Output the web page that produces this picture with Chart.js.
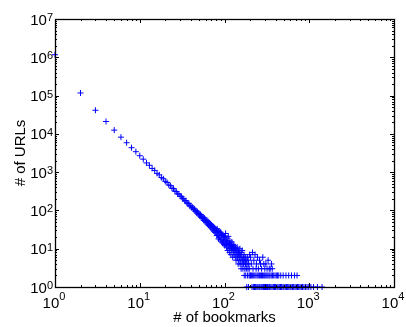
<!DOCTYPE html>
<html>
<head>
<meta charset="utf-8">
<script src="https://cdn.jsdelivr.net/npm/chart.js@4/dist/chart.umd.min.js"></script>
<style>
  html, body { margin: 0; padding: 0; background: #fff; }
  #plot { display: block; }
</style>
</head>
<body>
<canvas id="plot" width="406" height="327"></canvas>
<script>
// bookmark counts 1..10
const headBookmarks = [1, 2, 3, 4, 5, 6, 7, 8, 9, 10];
const headUrls = [1170000, 117000, 41400, 21000, 12500, 8200, 5860, 4350, 3420, 2690];

// bookmark counts 11..99
const midBookmarks = [11, 12, 13, 14, 15, 16, 17, 18, 19, 20, 21, 22, 23, 24, 25, 26, 27, 28, 29, 30,
  31, 32, 33, 34, 35, 36, 37, 38, 39, 40, 41, 42, 43, 44, 45, 46, 47, 48, 49, 50,
  51, 52, 53, 54, 55, 56, 57, 58, 59, 60, 61, 62, 63, 64, 65, 66, 67, 68, 69, 70,
  71, 72, 73, 74, 75, 76, 77, 78, 79, 80, 81, 82, 83, 84, 85, 86, 87, 88, 89, 90,
  91, 92, 93, 94, 95, 96, 97, 98, 99];
const midUrls = [2180, 1740, 1510, 1250, 1110, 930, 850, 720, 670, 575, 540, 462, 445, 380, 372, 318, 312, 270, 268, 236,
  230, 204, 201, 178, 180, 158, 149, 151, 130, 134, 118, 121, 107, 110, 96, 99, 86, 92, 79, 84,
  72, 78, 66, 71, 61, 67, 55, 63, 52, 57, 48, 55, 44, 51, 41, 47, 39, 45, 36, 42,
  33, 39, 31, 37, 29, 35, 27, 33, 26, 31, 22, 33, 23, 28, 18, 29, 20, 26, 17, 27,
  18, 24, 15, 23, 14, 22, 16, 21, 13];

// noisy tail, 100..200 bookmarks
const tailBookmarks = [100, 101, 102, 103, 104, 105, 106, 107, 108, 109, 110, 111, 112, 113, 114, 115, 116, 117, 118, 119,
  120, 121, 122, 123, 124, 125, 126, 127, 128, 129, 130, 132, 133, 134, 135, 136, 137, 138, 140, 141,
  142, 143, 145, 146, 147, 148, 150, 151, 152, 153, 155, 156, 157, 158, 160, 161, 162, 164, 165, 167,
  168, 170, 171, 173, 174, 176, 177, 178, 180, 181, 183, 184, 186, 187, 189, 190, 192, 193, 195, 196,
  198, 200];
const tailUrls = [20, 12, 17, 25, 13, 16, 11, 19, 14, 9, 15, 21, 12, 10, 14, 8, 16, 11, 13, 7,
  12, 10, 15, 9, 11, 6, 13, 8, 10, 12, 7, 9, 11, 6, 10, 8, 5, 9, 7, 11,
  6, 8, 4, 9, 7, 5, 8, 6, 10, 4, 7, 5, 3, 8, 6, 4, 9, 5, 3, 6,
  4, 7, 2, 5, 3, 6, 4, 2, 5, 3, 1, 4, 6, 2, 3, 5, 1, 4, 2, 3,
  7, 2];

// sparse points above 200 bookmarks with 3+ URLs
const sparseBookmarks = [203, 207, 214, 217, 222, 229, 236, 238, 245, 251, 259, 266, 274, 283, 291, 299, 308, 318, 327, 337, 346, 358, 366];
const sparseUrls = [6, 4, 8, 3, 5, 7, 3, 4, 6, 3, 5, 4, 3, 6, 4, 3, 4, 3, 5, 3, 3, 4, 3];

// bookmark counts held by exactly two URLs
const twoUrlBookmarks = [202, 209, 213, 221, 228, 235, 243, 250, 258, 265, 273, 281, 290, 298, 307, 316, 325, 335, 344,
  356, 369, 381, 395, 409, 423, 437, 461, 492, 531, 572, 618, 671, 718];

// bookmark counts held by a single URL
const oneUrlBookmarks = [211, 219, 226, 233, 241, 248, 256, 262, 271, 279, 288, 296, 305, 314, 322, 333, 341, 352, 364,
  377, 389, 401, 416, 428, 443, 458, 472, 489, 503, 521, 538, 556, 574, 593, 611, 634, 655, 679, 702,
  726, 751, 778, 805, 833, 866, 902, 941, 987, 1046, 1123, 1248, 1417];

const xMajors = [1, 10, 100, 1000, 10000];
const yMajors = [1, 10, 100, 1000, 10000, 100000, 1000000, 10000000];

const FONT = '"Liberation Sans", Arial, Helvetica, sans-serif';

const points = [];
const addPairs = (xs, ys) => xs.forEach((b, i) => points.push({ x: b, y: ys[i] }));
addPairs(headBookmarks, headUrls);
addPairs(midBookmarks, midUrls);
addPairs(tailBookmarks, tailUrls);
addPairs(sparseBookmarks, sparseUrls);
twoUrlBookmarks.forEach(b => points.push({ x: b, y: 2 }));
oneUrlBookmarks.forEach(b => points.push({ x: b, y: 1 }));

// matlab-like box: inward ticks on all sides, 10^n labels, axis titles
const axisDecor = {
  id: "axisDecor",
  afterDraw(chart) {
    const { ctx, chartArea: a, scales } = chart;
    const sx = scales.x, sy = scales.y;
    ctx.save();
    ctx.strokeStyle = "#000";
    ctx.lineWidth = 1;

    const minorOf = majors => {
      const out = [];
      for (let i = 0; i < majors.length - 1; i++)
        for (let m = 2; m <= 9; m++) out.push(majors[i] * m);
      return out;
    };

    ctx.beginPath();
    const xTick = (v, len) => {
      const px = Math.round(sx.getPixelForValue(v)) + 0.5;
      ctx.moveTo(px, a.bottom); ctx.lineTo(px, a.bottom - len);
      ctx.moveTo(px, a.top); ctx.lineTo(px, a.top + len);
    };
    const yTick = (v, len) => {
      const py = Math.round(sy.getPixelForValue(v)) + 0.5;
      ctx.moveTo(a.left, py); ctx.lineTo(a.left + len, py);
      ctx.moveTo(a.right, py); ctx.lineTo(a.right - len, py);
    };
    xMajors.forEach(v => xTick(v, 4));
    minorOf(xMajors).forEach(v => xTick(v, 2));
    yMajors.forEach(v => yTick(v, 4));
    minorOf(yMajors).forEach(v => yTick(v, 2));
    ctx.stroke();

    ctx.lineWidth = 1.3;
    ctx.strokeRect(a.left + 0.5, a.top + 0.5, a.right - a.left, a.bottom - a.top);

    ctx.fillStyle = "#000";
    ctx.textBaseline = "alphabetic";
    ctx.textAlign = "left";
    const baseFont = "15px " + FONT, expFont = "11px " + FONT;

    xMajors.forEach(v => {
      const px = sx.getPixelForValue(v);
      const e = String(Math.round(Math.log10(v)));
      ctx.font = baseFont; const w1 = ctx.measureText("10").width;
      ctx.font = expFont; const w2 = ctx.measureText(e).width;
      const start = px - (w1 + w2) / 2 - 1;
      ctx.font = baseFont; ctx.fillText("10", start, 308);
      ctx.font = expFont; ctx.fillText(e, start + w1, 300);
    });

    yMajors.forEach(v => {
      const py = sy.getPixelForValue(v);
      const e = String(Math.round(Math.log10(v)));
      ctx.font = expFont; const w2 = ctx.measureText(e).width;
      ctx.font = baseFont; const w1 = ctx.measureText("10").width;
      const ex = 53 - w2;
      ctx.font = baseFont; ctx.fillText("10", ex - w1, py + 5.5);
      ctx.font = expFont; ctx.fillText(e, ex, py + 2);
    });

    ctx.font = "15px " + FONT;
    ctx.textAlign = "center";
    ctx.fillText("# of bookmarks", (a.left + a.right) / 2, 321.5);
    ctx.translate(25, (a.top + a.bottom) / 2);
    ctx.rotate(-Math.PI / 2);
    ctx.fillText("# of URLs", 0, 0);
    ctx.restore();
  }
};

new Chart(document.getElementById("plot"), {
  type: "scatter",
  data: {
    datasets: [{
      label: "URLs",
      data: points,
      pointStyle: "cross",
      pointRadius: 3,
      borderColor: "#0000ff",
      backgroundColor: "#0000ff",
      borderWidth: 1,
      clip: false
    }]
  },
  options: {
    responsive: false,
    animation: false,
    devicePixelRatio: 1,
    layout: { padding: { left: 55, top: 19, right: 12, bottom: 40 } },
    scales: {
      x: { type: "logarithmic", min: 1, max: 10000, display: false },
      y: { type: "logarithmic", min: 1, max: 10000000, display: false }
    },
    plugins: { legend: { display: false }, tooltip: { enabled: false } }
  },
  plugins: [axisDecor]
});
</script>
</body>
</html>
